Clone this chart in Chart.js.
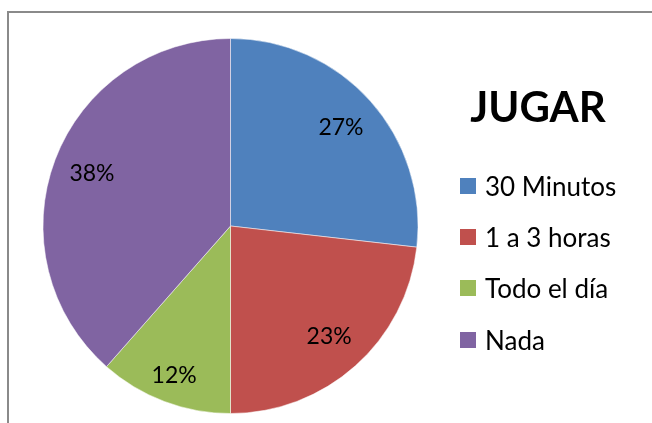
<!DOCTYPE html>
<html>
<head>
<meta charset="utf-8">
<script src="https://cdn.jsdelivr.net/npm/chart.js@4"></script>
<style>
  html, body { margin: 0; padding: 0; background: #fff; }
  #wrap { position: relative; width: 652px; height: 423px; overflow: hidden; font-family: Lato, "Open Sans", sans-serif; }
  #frame { position: absolute; left: 7px; top: 11px; width: 800px; height: 600px; border-left: 2px solid #8a8a8a; border-top: 2px solid #8a8a8a; }
  #chart { position: absolute; left: 0; top: 0; }
  #title { position: absolute; left: 438px; width: 200px; top: 80px; text-align: center; font-weight: bold; font-size: 42px; line-height: 52px; color: #000; }
  #legend { position: absolute; left: 460px; top: 160px; }
  .item { display: flex; align-items: center; height: 51.3px; font-size: 26px; color: #000; }
  .sw { width: 16px; height: 16px; margin-right: 9px; flex: none; }
</style>
</head>
<body>
<div id="wrap">
  <div id="frame"></div>
  <canvas id="chart" width="652" height="423"></canvas>
  <div id="title">JUGAR</div>
  <div id="legend"></div>
</div>
<script>
// ─── Données ──────────────────────────────────────────────────────────────
const labels = ['30 Minutos', '1 a 3 horas', 'Todo el día', 'Nada'];
const values = [26.8, 23.2, 11.5, 38.5];
const pctLabels = ['27%', '23%', '12%', '38%'];
const colors = ['#4F81BD', '#C0504D', '#9BBB59', '#8064A2'];
// position radiale des étiquettes (fraction du rayon)
const labelRadius = [0.79, 0.79, 0.85, 0.79];

// ─── Étiquettes de données à l'intérieur des parts ───────────────────────
const sliceLabels = {
  id: 'sliceLabels',
  afterDatasetsDraw(chart) {
    const { ctx } = chart;
    const meta = chart.getDatasetMeta(0);
    ctx.save();
    ctx.font = '23px Lato, "Open Sans", sans-serif';
    ctx.fillStyle = '#000';
    ctx.textAlign = 'center';
    ctx.textBaseline = 'middle';
    meta.data.forEach((arc, i) => {
      const p = arc.getProps(['x', 'y', 'startAngle', 'endAngle', 'outerRadius'], true);
      const mid = (p.startAngle + p.endAngle) / 2;
      const r = p.outerRadius * labelRadius[i];
      ctx.fillText(pctLabels[i], p.x + Math.cos(mid) * r, p.y + Math.sin(mid) * r);
    });
    ctx.restore();
  },
};

new Chart(document.getElementById('chart'), {
  type: 'pie',
  data: {
    labels,
    datasets: [{
      data: values,
      backgroundColor: colors,
      borderColor: 'rgba(255,255,255,0.5)',
      borderWidth: 1,
    }],
  },
  options: {
    responsive: false,
    animation: false,
    layout: { padding: { left: 42, right: 233, top: 38, bottom: 9 } },
    plugins: {
      legend: { display: false },
      tooltip: { enabled: false },
    },
  },
  plugins: [sliceLabels],
});

// ─── Légende HTML ─────────────────────────────────────────────────────────
const legend = document.getElementById('legend');
labels.forEach((l, i) => {
  const row = document.createElement('div');
  row.className = 'item';
  row.innerHTML = `<span class="sw" style="background:${colors[i]}"></span><span>${l}</span>`;
  legend.appendChild(row);
});
</script>
</body>
</html>
